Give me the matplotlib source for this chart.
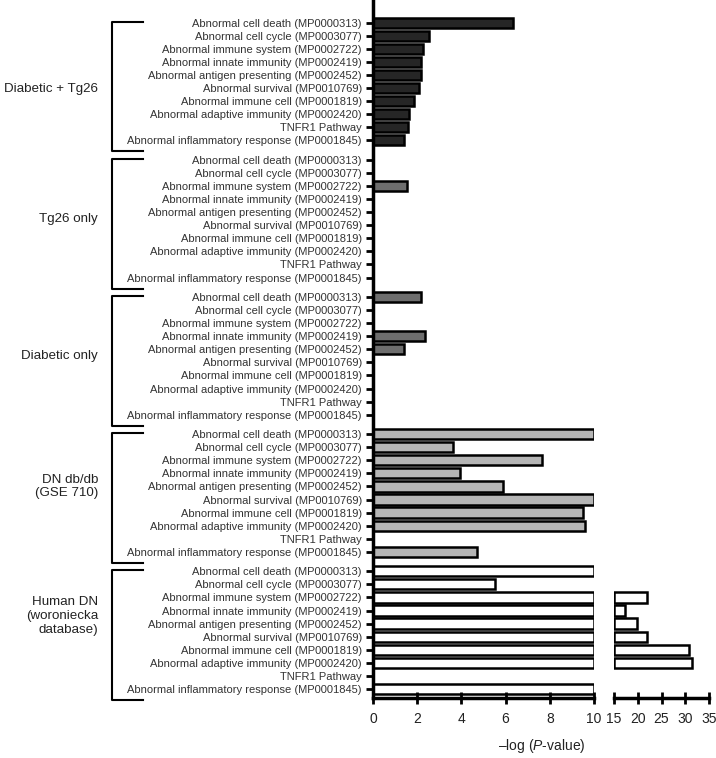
import numpy as np
import matplotlib.pyplot as plt
from matplotlib import transforms

plt.rcParams['font.family'] = ['Liberation Sans', 'DejaVu Sans']
plt.rcParams['mathtext.fontset'] = 'custom'
plt.rcParams['mathtext.it'] = 'Liberation Sans:italic'
plt.rcParams['mathtext.rm'] = 'Liberation Sans'

terms = ['Abnormal cell death (MP0000313)',
         'Abnormal cell cycle (MP0003077)',
         'Abnormal immune system (MP0002722)',
         'Abnormal innate immunity (MP0002419)',
         'Abnormal antigen presenting (MP0002452)',
         'Abnormal survival (MP0010769)',
         'Abnormal immune cell (MP0001819)',
         'Abnormal adaptive immunity (MP0002420)',
         'TNFR1 Pathway',
         'Abnormal inflammatory response (MP0001845)']

groups = ['Diabetic + Tg26', 'Tg26 only', 'Diabetic only',
          'DN db/db\n(GSE 710)', 'Human DN\n(woroniecka\ndatabase)']

diab_tg26 = [6.33, 2.53, 2.26, 2.17, 2.17, 2.08, 1.85, 1.63, 1.58, 1.40]
tg26_only = [0, 0, 1.54, 0, 0, 0, 0, 0, 0, 0]
diab_only = [2.17, 0, 0, 2.35, 1.40, 0, 0, 0, 0, 0]
db_db = [12, 3.6, 7.65, 3.94, 5.88, 12, 9.5, 9.6, 0, 4.7]
human = [12, 5.5, 22, 17.3, 19.9, 22, 30.7, 31.4, 0, 12]

all_vals = [diab_tg26, tg26_only, diab_only, db_db, human]
colors = ['#262626', '#6e6e6e', '#6e6e6e', '#b5b5b5', 'white']
label_rows = [5.1, 4.5, 4.5, 4.0, 3.4]   # where each group name sits

fig = plt.figure(figsize=(7.16, 7.58), dpi=100)
ax = fig.add_axes([373/716, 1-698/758, 221/716, 698/758])
ax2 = fig.add_axes([614/716, 1-698/758, 95/716, 698/758])

ypos_all = []
for g, (vals, c) in enumerate(zip(all_vals, colors)):
    vals = np.array(vals, dtype=float)
    ypos = g*10.5 + np.arange(10)
    ypos_all.extend(ypos)
    m = vals > 0
    ax.barh(ypos[m], np.minimum(vals[m], 10), height=0.78, color=c,
            edgecolor='black', linewidth=1.8)
    m2 = vals > 15
    if m2.any():
        ax2.barh(ypos[m2], vals[m2]-15, left=15, height=0.78, color=c,
                 edgecolor='black', linewidth=1.8)

for a in (ax, ax2):
    a.set_ylim(51.7, -1.75)
    a.spines['top'].set_visible(False)
    a.spines['right'].set_visible(False)
    a.spines['bottom'].set_linewidth(2.5)
    a.tick_params(axis='x', direction='inout', length=8, width=2,
                  labelsize=10, pad=6, labelcolor='#222222')

ax.spines['left'].set_linewidth(2.5)
ax.set_yticks(ypos_all)
ax.set_yticklabels(terms*5)
ax.tick_params(axis='y', length=5, width=2, pad=3, labelsize=8,
               labelcolor='#333333')
ax.set_xlim(0, 10)
ax.set_xticks(range(0, 11, 2))

ax2.spines['left'].set_visible(False)
ax2.set_yticks([])
ax2.set_xlim(15, 35)
ax2.set_xticks(range(15, 36, 5))

# brackets + group names
trans = transforms.blended_transform_factory(fig.transFigure, ax.transData)
for g, name in enumerate(groups):
    top = g*10.5 - 0.1
    bot = g*10.5 + 9.85
    ax.plot([0.2, 0.156, 0.156, 0.2], [top, top, bot, bot], transform=trans,
            clip_on=False, color='black', linewidth=1.5)
    ax.text(0.137, g*10.5 + label_rows[g], name, transform=trans, ha='right',
            va='center', fontsize=9.6, color='#222222', multialignment='right')

fig.text(0.757, 0.016, r'–log ($\mathit{P}$-value)', ha='center', va='center',
         fontsize=10, color='#222222')

fig.savefig('out.png', dpi=100)
